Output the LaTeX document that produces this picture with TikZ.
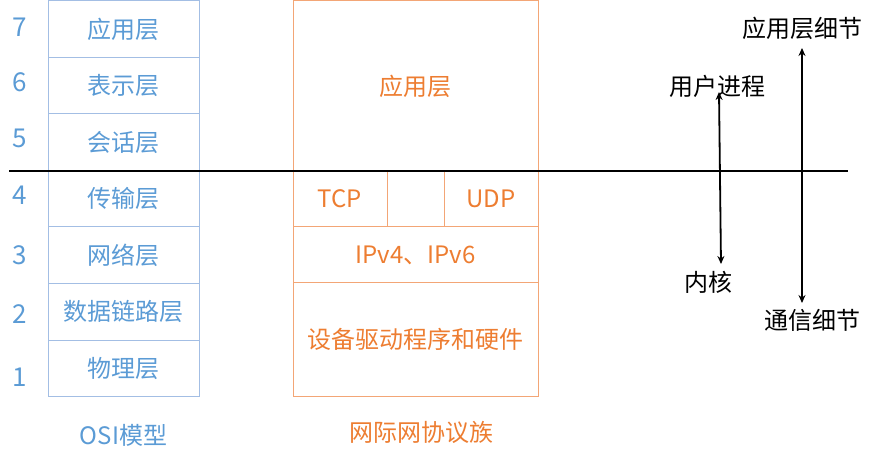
\documentclass[tikz,border=0pt]{standalone}
\usepackage{fontspec}
\usepackage{tikz}
\usetikzlibrary{arrows.meta}
\newfontfamily\cjk{Noto Sans CJK SC}
\definecolor{osiblue}{HTML}{5B9BD5}
\definecolor{osiline}{HTML}{A3BEE4}
\definecolor{iporange}{HTML}{ED7D31}
\definecolor{ipline}{HTML}{F3A676}

\begin{document}
\begin{tikzpicture}[x=1pt, y=-1pt,
    every node/.style={font=\cjk\fontsize{24}{24}\selectfont, inner sep=0pt},
    osicell/.style={draw=osiline, line width=1pt, text=osiblue, minimum width=151pt, minimum height=56.5pt},
    ipcell/.style={draw=ipline, line width=1pt, text=iporange, minimum height=56pt},
    layerno/.style={text=osiblue, font=\cjk\fontsize{26}{26}\selectfont}]
  \useasboundingbox (0,0) rectangle (875,462);

  % OSI model
  \node[osicell] (o7) at (123.5, 29.25) {应用层};
  \node[osicell] (o6) at (123.5, 85.75) {表示层};
  \node[osicell] (o5) at (123.5, 142.25) {会话层};
  \node[osicell] (o4) at (123.5, 198.75) {传输层};
  \node[osicell] (o3) at (123.5, 255.25) {网络层};
  \node[osicell] (o2) at (123.5, 311.75) {数据链路层};
  \node[osicell] (o1) at (123.5, 368.25) {物理层};
  \node[text=osiblue] (osi) at (123.5, 435) {OSI模型};

  % layer numbers
  \node[layerno] (n7) at (20, 27) {7};
  \node[layerno] (n6) at (20, 82) {6};
  \node[layerno] (n5) at (20, 138) {5};
  \node[layerno] (n4) at (20, 195) {4};
  \node[layerno] (n3) at (20, 255) {3};
  \node[layerno] (n2) at (20, 314) {2};
  \node[layerno] (n1) at (20, 377) {1};

  % Internet protocol suite
  \node[ipcell, minimum width=245pt, minimum height=170pt] (app) at (415.5, 86) {应用层};
  \node[ipcell, minimum width=94pt] (tcp) at (340, 199) {TCP};
  \node[ipcell, minimum width=57pt] (gap) at (415.5, 199) {};
  \node[ipcell, minimum width=94pt] (udp) at (491, 199) {UDP};
  \node[ipcell, minimum width=245pt] (ip) at (415.5, 255) {IPv4、IPv6};
  \node[ipcell, minimum width=245pt, minimum height=113pt] (dev) at (415.5, 339.5) {设备驱动程序和硬件};
  \node[text=iporange] (tcpip) at (421, 432) {网际网协议族};

  % user / kernel boundary
  \coordinate (bl) at (9, 171);
  \coordinate (br) at (848, 171);
  \draw[line width=2pt] (bl) -- (br);

  % right-hand arrows
  \node (user) at (717, 86) {用户进程};
  \node (kernel) at (708, 282) {内核};
  \node (appd) at (802, 28) {应用层细节};
  \node (comm) at (812, 320) {通信细节};
  \coordinate (ua) at (719, 92);
  \coordinate (ka) at (721, 264);
  \coordinate (aa) at (802, 48);
  \coordinate (ca) at (802, 303);
  \draw[line width=1.8pt, {Stealth[length=8pt,width=7pt]}-{Stealth[length=8pt,width=7pt]}] (ua) -- (ka);
  \draw[line width=1.8pt, {Stealth[length=8pt,width=7pt]}-{Stealth[length=8pt,width=7pt]}] (aa) -- (ca);
\end{tikzpicture}
\end{document}
